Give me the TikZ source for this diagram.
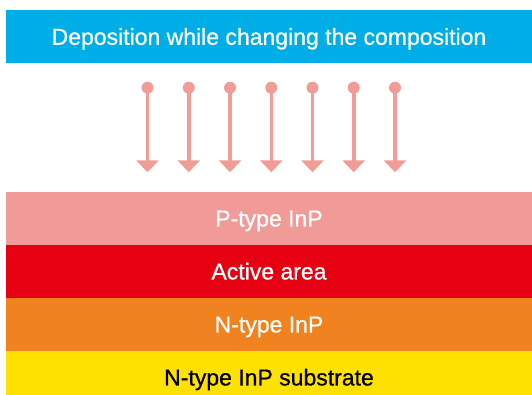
\documentclass[tikz,border=0pt]{standalone}
\usepackage{fontspec}
\setmainfont{Liberation Sans}
\newfontfamily\layerfont[FakeBold=0.7]{Liberation Sans}
\usetikzlibrary{arrows.meta,positioning}

\definecolor{barblue}{HTML}{00AEE7}
\definecolor{flowpink}{HTML}{F29C97}
\definecolor{ptypepink}{HTML}{F09B97}
\definecolor{activered}{HTML}{E60012}
\definecolor{ntypeorange}{HTML}{F08320}
\definecolor{substyellow}{HTML}{FFE100}

\begin{document}
\begin{tikzpicture}[
    x=1pt, y=1pt,
    layer/.style={rectangle, minimum width=526pt, minimum height=53pt, inner sep=0pt, outer sep=0pt, text=white, font=\layerfont\fontsize{23}{27}\selectfont, text height=16.5pt, text depth=0pt},
    dot/.style={circle, fill=flowpink, minimum size=12pt, inner sep=0pt, outer sep=0pt},
    flow/.style={-{Triangle[width=22pt,length=12pt]}, line width=3.5pt, draw=flowpink}
]
    \useasboundingbox (0,0) rectangle (532,-394);
    \node[layer, fill=barblue, anchor=north west] (bar) at (6,-10) {Deposition while changing the composition};
    \node[layer, fill=ptypepink, below=128.7pt of bar] (ptype) {P-type InP};
    \node[layer, fill=activered, below=0pt of ptype] (active) {Active area};
    \node[layer, fill=ntypeorange, below=0pt of active] (ntype) {N-type InP};
    \node[layer, fill=substyellow, text=black, below=0pt of ntype] (subst) {N-type InP substrate};

    \foreach \i in {0,...,6} {
        \node[dot] (src\i) at (147.5+41.25*\i, -87.7) {};
        \coordinate (dst\i) at (147.5+41.25*\i, -172.3);
        \draw[flow] (src\i.center) -- (dst\i);
    }
\end{tikzpicture}
\end{document}
